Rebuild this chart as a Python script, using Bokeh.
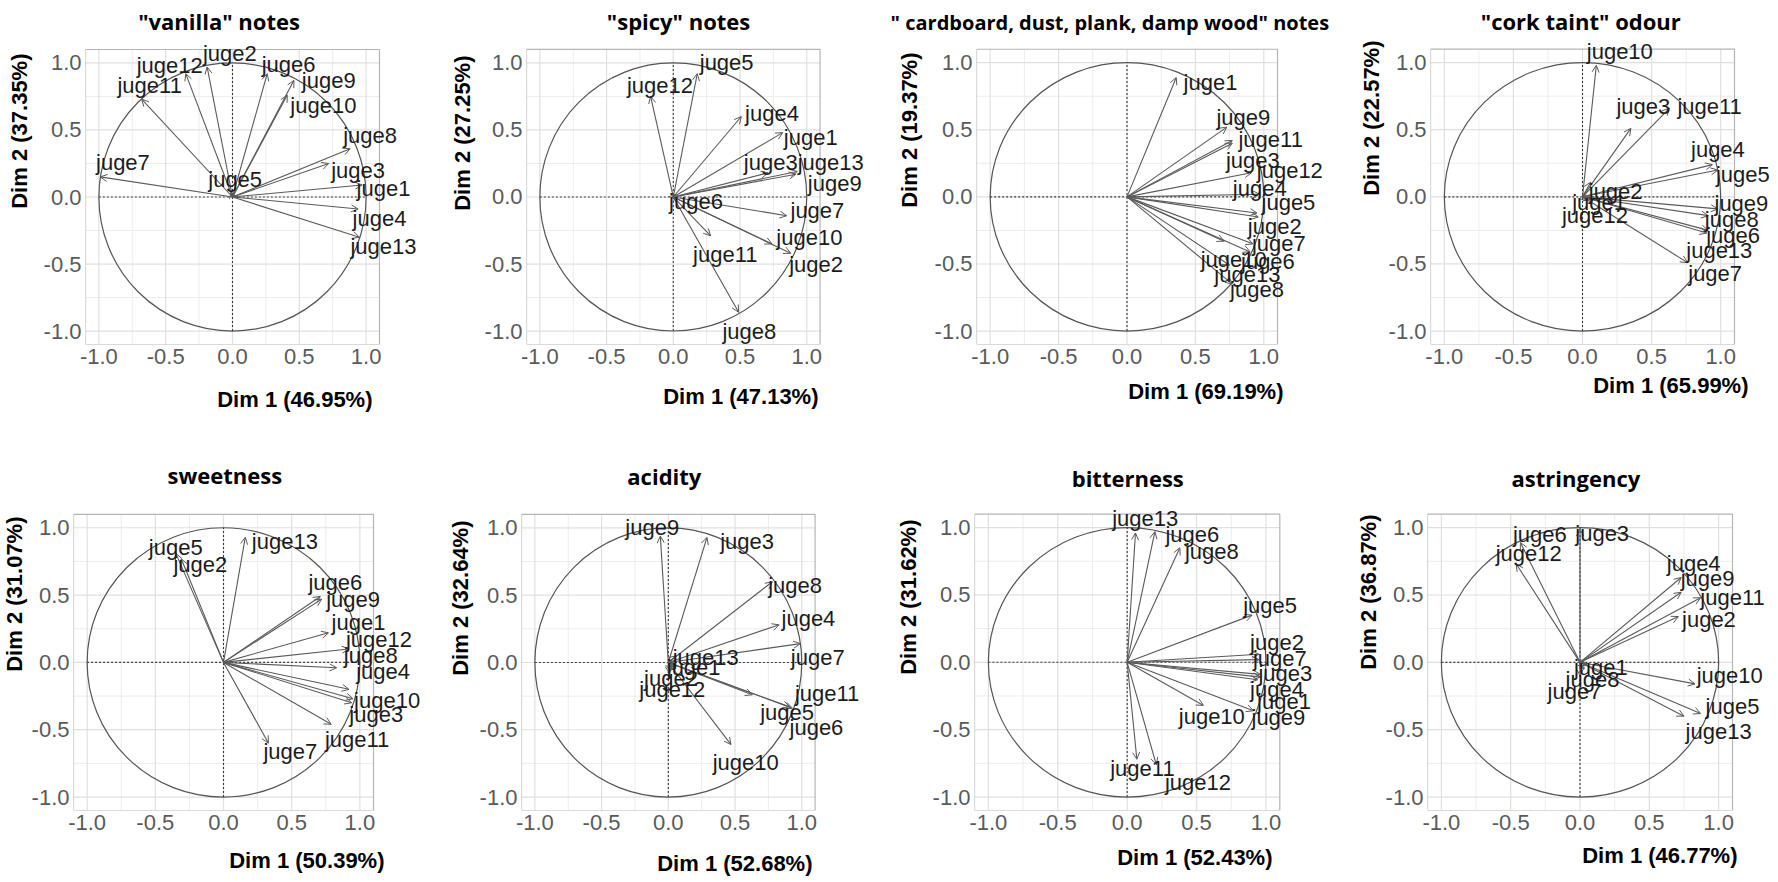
from bokeh.plotting import figure
from bokeh.models import (ColumnDataSource, Range1d, FixedTicker, PrintfTickFormatter,
                          Arrow, OpenHead, Label, Title)
from bokeh.layouts import row, column
from bokeh.embed import file_html
from bokeh.resources import INLINE

judges = ["juge1", "juge2", "juge3", "juge4", "juge5", "juge6", "juge7",
          "juge8", "juge9", "juge10", "juge11", "juge12", "juge13"]

titles = ['"vanilla" notes', '"spicy" notes', '" cardboard, dust, plank, damp wood" notes',
          '"cork taint" odour', 'sweetness', 'acidity', 'bitterness', 'astringency']
dim1_pct = [46.95, 47.13, 69.19, 65.99, 50.39, 52.68, 52.43, 46.77]
dim2_pct = [37.35, 27.25, 19.37, 22.57, 31.07, 32.64, 31.62, 36.87]

major_ticks = [-1.0, -0.5, 0.0, 0.5, 1.0]
minor_ticks = [-0.75, -0.25, 0.25, 0.75]

# arrow tips (Dim1, Dim2) and label anchors, judges 1..13
vanilla_x = [0.97, -0.19, 0.72, 0.94, -0.01, 0.26, -0.99, 0.88, 0.46, 0.41, -0.68, -0.35, 0.95]
vanilla_y = [0.09, 0.97, 0.25, -0.09, 0.04, 0.92, 0.15, 0.36, 0.87, 0.76, 0.73, 0.92, -0.30]
vanilla_lx = [1.13, -0.02, 0.94, 1.10, 0.02, 0.42, -0.82, 1.03, 0.72, 0.68, -0.62, -0.47, 1.13]
vanilla_ly = [0.06, 1.07, 0.20, -0.16, 0.13, 0.99, 0.26, 0.46, 0.87, 0.68, 0.83, 0.98, -0.37]

spicy_x = [0.82, 0.88, 0.71, 0.51, 0.18, 0.02, 0.85, 0.49, 0.92, 0.74, 0.28, -0.17, 0.93]
spicy_y = [0.48, -0.42, 0.18, 0.60, 0.92, 0.02, -0.14, -0.86, 0.17, -0.35, -0.29, 0.75, 0.19]
spicy_lx = [1.03, 1.07, 0.73, 0.74, 0.40, 0.17, 1.08, 0.57, 1.21, 1.02, 0.39, -0.10, 1.18]
spicy_ly = [0.44, -0.50, 0.26, 0.62, 1.00, -0.03, -0.10, -1.00, 0.10, -0.30, -0.43, 0.83, 0.26]

cardboard_x = [0.36, 0.96, 0.77, 0.97, 0.95, 0.90, 0.92, 0.77, 0.73, 0.71, 0.77, 0.91, 0.75]
cardboard_y = [0.89, -0.15, 0.40, 0.02, -0.12, -0.41, -0.35, -0.65, 0.52, -0.33, 0.42, 0.18, -0.51]
cardboard_lx = [0.61, 1.08, 0.92, 0.97, 1.18, 1.03, 1.11, 0.95, 0.85, 0.78, 1.05, 1.19, 0.88]
cardboard_ly = [0.85, -0.22, 0.27, 0.06, -0.04, -0.48, -0.35, -0.69, 0.59, -0.47, 0.43, 0.20, -0.58]

cork_x = [0.06, 0.06, 0.35, 0.94, 0.98, 0.91, 0.76, 0.91, 0.98, 0.10, 0.63, 0.03, 0.90]
cork_y = [-0.02, 0.11, 0.51, 0.24, 0.20, -0.25, -0.49, -0.14, -0.09, 0.98, 0.66, -0.03, -0.27]
cork_lx = [0.12, 0.24, 0.44, 0.98, 1.16, 1.09, 0.96, 1.08, 1.15, 0.27, 0.92, 0.09, 0.99]
cork_ly = [-0.04, 0.04, 0.67, 0.35, 0.17, -0.29, -0.57, -0.17, -0.05, 1.08, 0.67, -0.14, -0.40]

sweet_x = [0.77, -0.31, 0.94, 0.92, -0.35, 0.71, 0.33, 0.83, 0.72, 0.95, 0.79, 0.92, 0.16]
sweet_y = [0.22, 0.77, -0.30, -0.20, 0.81, 0.49, -0.60, -0.04, 0.47, -0.27, -0.46, 0.10, 0.93]
sweet_lx = [0.99, -0.17, 1.12, 1.17, -0.35, 0.82, 0.49, 1.08, 0.95, 1.20, 0.98, 1.14, 0.45]
sweet_ly = [0.30, 0.73, -0.39, -0.07, 0.85, 0.59, -0.66, 0.05, 0.47, -0.28, -0.57, 0.17, 0.90]

acid_x = [0.05, 0.02, 0.29, 0.83, 0.91, 0.93, 0.99, 0.78, -0.06, 0.47, 0.63, 0.01, 0.06]
acid_y = [-0.03, -0.06, 0.93, 0.28, -0.33, -0.34, 0.14, 0.60, 0.94, -0.61, -0.24, -0.08, 0.05]
acid_lx = [0.19, 0.02, 0.59, 1.05, 0.89, 1.11, 1.12, 0.95, -0.12, 0.58, 1.19, 0.03, 0.28]
acid_ly = [-0.04, -0.12, 0.90, 0.33, -0.37, -0.48, 0.04, 0.57, 1.00, -0.74, -0.23, -0.20, 0.04]

bitter_x = [0.94, 0.95, 0.96, 0.96, 0.90, 0.20, 0.95, 0.38, 0.91, 0.55, 0.07, 0.21, 0.06]
bitter_y = [-0.13, 0.06, -0.09, -0.11, 0.35, 0.97, 0.02, 0.85, -0.36, -0.32, -0.72, -0.76, 0.96]
bitter_lx = [1.13, 1.08, 1.14, 1.08, 1.03, 0.47, 1.10, 0.61, 1.09, 0.61, 0.11, 0.51, 0.13]
bitter_ly = [-0.29, 0.15, -0.08, -0.20, 0.42, 0.95, 0.03, 0.82, -0.41, -0.40, -0.79, -0.89, 1.07]

astr_x = [0.05, 0.71, 0.00, 0.73, 0.87, -0.43, 0.00, 0.03, 0.73, 0.83, 0.87, -0.46, 0.75]
astr_y = [-0.02, 0.34, 0.99, 0.63, -0.38, 0.89, -0.10, -0.05, 0.52, -0.16, 0.48, 0.73, -0.40]
astr_lx = [0.15, 0.93, 0.16, 0.82, 1.10, -0.29, -0.04, 0.09, 0.92, 1.08, 1.10, -0.37, 1.00]
astr_ly = [-0.04, 0.32, 0.96, 0.73, -0.33, 0.95, -0.22, -0.13, 0.62, -0.10, 0.48, 0.81, -0.51]

panel_x = [vanilla_x, spicy_x, cardboard_x, cork_x, sweet_x, acid_x, bitter_x, astr_x]
panel_y = [vanilla_y, spicy_y, cardboard_y, cork_y, sweet_y, acid_y, bitter_y, astr_y]
panel_lx = [vanilla_lx, spicy_lx, cardboard_lx, cork_lx, sweet_lx, acid_lx, bitter_lx, astr_lx]
panel_ly = [vanilla_ly, spicy_ly, cardboard_ly, cork_ly, sweet_ly, acid_ly, bitter_ly, astr_ly]

# layout per panel: fig_w, fig_h, box_left, box_top, box_w, box_h,
#   ylab_dist, ylab_off, xlab_dist, xlab_off, title_size, title_cx, title_cy
LAYOUT = [
    (445, 441, 85, 49, 294, 295, 60, 4, 58, 7, 22, 219, 20),
    (445, 441, 78, 49, 296, 296, 63, 6, 55, 1, 22, 231, 20),
    (445, 441, 86, 47, 301, 301, 61, 3, 50, -6, 20, 222, 20),
    (442, 441, 95, 49, 304, 304, 53, -9, 40, -14, 22, 246, 20),
    (445, 440, 73, 73, 300, 301, 51, 2, 53, -11, 22, 225, 33),
    (445, 440, 73, 72, 296, 297, 71, 6, 56, 2, 22, 216, 33),
    (445, 440, 82, 70, 307, 307, 60, 5, 50, 7, 22, 236, 33),
    (442, 440, 92, 70, 305, 305, 54, 0, 48, -5, 22, 241, 33),
]

TXT_FONT = "Liberation Sans"
AX_SIZE = 22
A_LEFT = 4 + 1.723 * AX_SIZE
H_AX = 1.117 * AX_SIZE
A_BOTTOM = 4 + H_AX
EXT_TOP = 12

# Open Sans Bold advance widths (em) for title width estimate
OSB = {' ': 0.26, '"': 0.472, ',': 0.286, 'a': 0.603, 'b': 0.654, 'c': 0.513, 'd': 0.654,
       'e': 0.6, 'g': 0.579, 'i': 0.298, 'k': 0.614, 'l': 0.298, 'm': 0.982, 'n': 0.666,
       'o': 0.635, 'p': 0.654, 'r': 0.453, 's': 0.512, 't': 0.433, 'u': 0.666, 'v': 0.58,
       'w': 0.841, 'y': 0.58}


def make_panel(i):
    W, H, fl, ft, fw, fh, yd, yoff, xd, xoff, tsize, tcx, tcy = LAYOUT[i]
    ext_r = W - fl - fw - 1
    ext_t = EXT_TOP
    fb = H - ft - fh
    ppx = fw / 2.2
    ppy = fh / 2.2
    p = figure(width=W, height=H,
               x_range=Range1d(-1.1, 1.1 + ext_r / ppx),
               y_range=Range1d(-1.1, 1.1 + ext_t / ppy),
               output_backend="svg", toolbar_location=None, title=None,
               min_border_left=fl, min_border_right=1, min_border_top=ft - ext_t,
               min_border_bottom=fb,
               background_fill_color="white", border_fill_color="white",
               outline_line_color=None)
    p.xgrid.visible = False
    p.ygrid.visible = False
    for ax in (p.xaxis[0], p.yaxis[0]):
        ax.ticker = FixedTicker(ticks=major_ticks, minor_ticks=minor_ticks)
        ax.formatter = PrintfTickFormatter(format="%.1f")
        ax.axis_line_color = None
        ax.major_tick_line_color = None
        ax.minor_tick_line_color = None
        ax.major_tick_out = 0
        ax.major_tick_in = 0
        ax.minor_tick_out = 0
        ax.major_label_standoff = 4
        ax.major_label_text_font = TXT_FONT
        ax.major_label_text_font_size = f"{AX_SIZE}px"
        ax.major_label_text_color = "#5a5a5a"

    # panel grid and border limited to [-1.1, 1.1]
    lo, hi = -1.1, 1.1
    p.segment(x0=minor_ticks, y0=[lo] * 4, x1=minor_ticks, y1=[hi] * 4,
              line_color="#ececec", line_width=1)
    p.segment(x0=[lo] * 4, y0=minor_ticks, x1=[hi] * 4, y1=minor_ticks,
              line_color="#ececec", line_width=1)
    p.segment(x0=major_ticks, y0=[lo] * 5, x1=major_ticks, y1=[hi] * 5,
              line_color="#e0e0e0", line_width=1.2)
    p.segment(x0=[lo] * 5, y0=major_ticks, x1=[hi] * 5, y1=major_ticks,
              line_color="#e0e0e0", line_width=1.2)
    p.quad(left=lo, right=hi, bottom=lo, top=hi, fill_color=None,
           line_color="#b5b5b5", line_width=1.2)

    # unit circle and dashed axes through origin
    p.ellipse(x=0, y=0, width=2, height=2, fill_color=None, line_color="#555555", line_width=1.2)
    p.segment(x0=[-1, 0], y0=[0, -1], x1=[1, 0], y1=[0, 1],
              line_color="#3a3a3a", line_width=1.1, line_dash="2 2")

    src = ColumnDataSource(dict(name=judges, x=panel_x[i], y=panel_y[i]))
    p.add_layout(Arrow(end=OpenHead(size=7, line_color="#5a5a5a", line_width=1),
                       x_start=0, y_start=0, x_end="x", y_end="y", source=src,
                       line_color="#5a5a5a", line_width=1.1))
    for name, lx, ly in zip(judges, panel_lx[i], panel_ly[i]):
        p.add_layout(Label(x=lx, y=ly, text=name, text_align="center", text_baseline="middle",
                           text_font=TXT_FONT, text_font_size="22px", text_color="#1c1c1c"))

    # main title
    ft_ext = ft - ext_t
    th = 1.362 * tsize
    ts = 2 * (ft_ext - 2 - th / 2 - tcy)
    ts = max(0.0, min(ts, ft_ext - 2 - th - 0.5))
    tw = sum(OSB.get(c, 0.6) for c in titles[i]) * tsize
    title = Title(text=titles[i], align="left", offset=tcx - tw / 2 - fl,
                  vertical_align="top", standoff=ts, text_font="Open Sans",
                  text_font_style="bold", text_font_size=f"{tsize}px", text_color="black")
    p.add_layout(title, "above")

    # y axis title
    ys = 2 * (yd - A_LEFT - H_AX / 2)
    ys = max(0.0, min(ys, fl - A_LEFT - 2 - H_AX - 0.5))
    ylab = Title(text=f"Dim 2 ({dim2_pct[i]:.2f}%)", align="right", offset=ext_t + yoff,
                 vertical_align="top", standoff=ys, text_font=TXT_FONT,
                 text_font_style="bold", text_font_size=f"{AX_SIZE}px", text_color="black")
    p.add_layout(ylab, "left")

    # x axis title: spacing made by an invisible axis label, title sits right under it
    sp = xd - 2 - H_AX / 2 - A_BOTTOM - 1.2
    sp = max(0.0, min(sp, fb - A_BOTTOM - 1.2 - 2 - H_AX - 0.5))
    p.xaxis[0].axis_label = " "
    p.xaxis[0].axis_label_text_font_size = "1px"
    p.xaxis[0].axis_label_standoff = int(round(sp))
    xlab = Title(text=f"Dim 1 ({dim1_pct[i]:.2f}%)", align="right", offset=ext_r + xoff,
                 vertical_align="bottom", standoff=0, text_font=TXT_FONT,
                 text_font_style="bold", text_font_size=f"{AX_SIZE}px", text_color="black")
    p.add_layout(xlab, "below")
    return p


panels = [make_panel(i) for i in range(8)]
layout = column(row(*panels[:4]), row(*panels[4:]))
open("out.html", "w").write(file_html(layout, INLINE))
